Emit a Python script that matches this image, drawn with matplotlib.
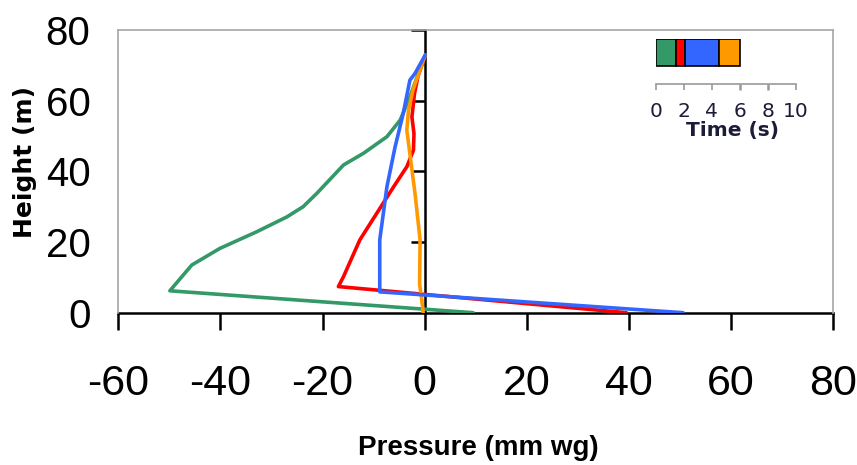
import numpy as np
import matplotlib
matplotlib.use('Agg')
import matplotlib.pyplot as plt

# pressure profiles (mm wg) against height (m), one per time phase
green_p = [9.5, -49.9, -45.6, -40.1, -32.9, -27.0, -23.8, -21.1, -15.9, -12.0, -7.4, -4.8, -2.9, 0.1]
green_h = [0, 6.2, 13.5, 18.2, 22.9, 27.1, 30.0, 33.8, 41.8, 45.1, 49.8, 54.5, 61.1, 72.9]

red_p = [39.5, -16.9, -15.9, -12.7, -9.4, -6.1, -3.5, -2.2, -2.1, -2.5, -2.0, -1.3, 0.1]
red_h = [0, 7.4, 10.2, 20.6, 28.1, 35.6, 41.3, 46.0, 50.7, 55.4, 62.0, 67.0, 72.8]

orange_p = [-0.3, -0.6, -1.0, -0.9, -1.9, -2.9, -3.5, -3.2, -2.3, 0.1]
orange_h = [0, 4.0, 8.0, 20.6, 33.8, 45.0, 51.6, 57.0, 63.0, 72.9]

blue_p = [50.6, -8.8, -8.8, -7.4, -5.8, -4.2, -2.9, -1.9, 0.1]
blue_h = [0, 5.9, 20.6, 35.6, 46.9, 56.4, 65.8, 67.7, 72.9]

# time line of the phases (s)
phase_edges = [0, 1.4, 2.1, 4.5, 6.0]
phase_colors = ['#339966', '#ff0000', '#3366ff', '#ff9900']

x_ticks = [-60, -40, -20, 0, 20, 40, 60, 80]
y_ticks = [0, 20, 40, 60, 80]
time_ticks = [0, 2, 4, 6, 8, 10]

num_font = 'Liberation Sans'

fig = plt.figure(figsize=(8.57, 4.65), dpi=100)
ax = fig.add_axes([0.138, 0.3275, 0.8343, 0.6080])

line_kw = dict(lw=2.6, solid_joinstyle='round', solid_capstyle='round')
ax.plot(green_p, green_h, color=phase_colors[0], zorder=3, **line_kw)
ax.plot(red_p, red_h, color=phase_colors[1], zorder=4, **line_kw)
ax.plot(orange_p, orange_h, color=phase_colors[3], zorder=5, **line_kw)
ax.plot(blue_p, blue_h, color=phase_colors[2], zorder=6, **line_kw)

ax.set_xlim(-60, 80)
ax.set_ylim(0, 80)

for side in ['left', 'top', 'right']:
    ax.spines[side].set_color('#a6a6a6')
    ax.spines[side].set_linewidth(1.2)
ax.spines['bottom'].set_color('black')
ax.spines['bottom'].set_linewidth(1.8)
ax.spines['bottom'].set_zorder(2)

ax.set_xticks(x_ticks)
ax.set_xticklabels([str(v) for v in x_ticks], fontsize=31, family=num_font)
ax.tick_params(axis='x', direction='out', length=12, width=1.8, pad=25)

ax.set_yticks(y_ticks)
ax.set_yticklabels([str(v) for v in y_ticks], fontsize=29, family=num_font)
ax.tick_params(axis='y', length=0, pad=20)

# vertical axis drawn through zero pressure
zero_frac = (0 - x_ticks[0]) / (x_ticks[-1] - x_ticks[0])
vax = ax.secondary_yaxis(zero_frac)
vax.set_yticks(y_ticks[1:])
vax.tick_params(axis='y', direction='out', length=10, width=1.8, labelleft=False)
vax.spines['left'].set_color('black')
vax.spines['left'].set_linewidth(1.8)
vax.set_zorder(2)

ax.set_xlabel('Pressure (mm wg)', fontsize=20, fontweight='bold', family=num_font)
ax.xaxis.set_label_coords(0.503, -0.432)
ax.set_ylabel('Height (m)', fontsize=18, fontweight='bold')
ax.yaxis.set_label_coords(-0.114, 0.533)

# inset time bar
ax_in = fig.add_axes([0.7655, 0.8194, 0.163, 0.0961])
starts = phase_edges[:-1]
widths = np.diff(phase_edges)
ax_in.barh(0.7, widths, left=starts, height=0.6, color=phase_colors,
           edgecolor='black', linewidth=1.2)
ax_in.set_xlim(0, 10)
ax_in.set_ylim(0, 1)
ax_in.set_yticks([])
for side in ['left', 'top', 'right']:
    ax_in.spines[side].set_visible(False)
ax_in.spines['bottom'].set_color('#999999')
ax_in.spines['bottom'].set_linewidth(1.2)
ax_in.patch.set_alpha(0)
ax_in.set_xticks(time_ticks)
ax_in.set_xticklabels([str(v) for v in time_ticks], fontsize=14.5)
ax_in.tick_params(axis='x', direction='out', length=4, width=1.2, pad=9, colors='#999999',
                  labelcolor='#1c1c3a')
for t, v in zip(ax_in.xaxis.get_major_ticks(), time_ticks):
    if v in (6, 8):
        t.tick1line.set_color('black')
        t.tick1line.set_markeredgewidth(1.8)
ax_in.set_xlabel('Time (s)', fontsize=14.5, fontweight='bold', color='#1c1c3a')
ax_in.xaxis.set_label_coords(0.55, -0.82)

fig.savefig('out.png', dpi=100)
